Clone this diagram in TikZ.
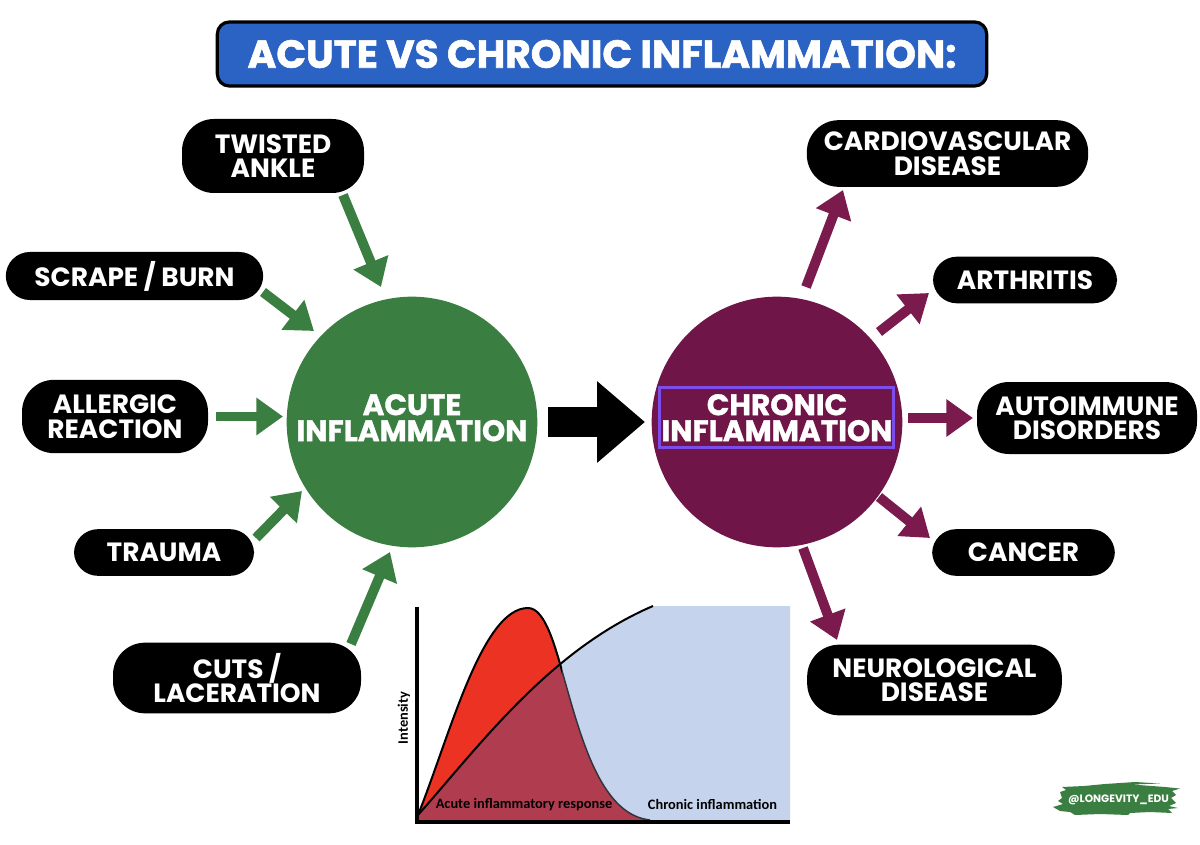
\documentclass[tikz,border=0pt]{standalone}
\usepackage{fontspec}
\setmainfont{Poppins}
\newfontfamily\chartfont{Carlito}
\usetikzlibrary{arrows.meta}
\definecolor{greenc}{HTML}{3A7F41}
\definecolor{plum}{HTML}{701547}
\definecolor{plumarrow}{HTML}{7A1A4D}
\definecolor{titleblue}{HTML}{2B63C4}
\definecolor{violetbox}{HTML}{7C4DEA}
\definecolor{chartblue}{HTML}{C5D3EC}
\definecolor{chartred}{HTML}{EC3323}
\definecolor{chartmix}{HTML}{B03C4F}
\tikzset{
  pill/.style={fill=black,text=white,rounded corners=#1,inner sep=0pt,align=center,
    font=\fontsize{19.8}{18.4}\selectfont\bfseries},
  hub/.style={circle,minimum size=188pt,inner sep=0pt},
  hubtext/.style={text=white,align=center,inner sep=0pt,yshift=3.2pt,
    font=\fontsize{22.2}{19.5}\selectfont\bfseries\addfontfeature{FakeBold=1.2}},
  greenarrow/.style={draw=greenc,line width=7.4pt,-{Triangle[length=20pt,width=27pt]}},
  plumlink/.style={draw=plumarrow,line width=7.4pt,-{Triangle[length=20pt,width=27pt]}},
  charttext/.style={inner sep=0pt,font=\chartfont\fontsize{10.8}{11}\selectfont\bfseries},
}
\begin{document}
\begin{tikzpicture}[x=0.75pt,y=-0.75pt]
\useasboundingbox (0,0) rectangle (1200,845);
% title
\node[draw=black,line width=2.4pt,fill=titleblue,rounded corners=9pt,minimum width=577pt,minimum height=48pt,inner sep=0pt,text=white,
  font=\fontsize{29.3}{30}\selectfont\bfseries\addfontfeature{FakeBold=1.5}] (title) at (602,54) {ACUTE VS CHRONIC INFLAMMATION:};
% hubs
\node[hub,fill=greenc,label={[hubtext]center:ACUTE\\INFLAMMATION}] (acute) at (412,422) {};
\node[hub,fill=plum,label={[hubtext]center:CHRONIC\\INFLAMMATION}] (chronic) at (777,422) {};
\node[draw=violetbox,line width=2.2pt,minimum width=176pt,minimum height=45.5pt,inner sep=0pt] (hilite) at (776.5,417.5) {};
% left pills
\node[pill=24pt,minimum width=136.5pt,minimum height=55.5pt] (twisted) at (273,156) {TWISTED\\ANKLE};
\node[pill=18pt,minimum width=193pt,minimum height=36pt] (scrape) at (134.5,276) {SCRAPE / BURN};
\node[pill=24pt,minimum width=139.5pt,minimum height=55pt] (allergic) at (115,416.5) {ALLERGIC\\REACTION};
\node[pill=18pt,minimum width=135pt,minimum height=35pt] (trauma) at (164,552.5) {TRAUMA};
\node[pill=24pt,minimum width=186pt,minimum height=53pt] (cuts) at (237,678) {CUTS /\\LACERATION};
% right pills
\node[pill=24pt,minimum width=211pt,minimum height=50pt] (cardio) at (947.5,153.5) {CARDIOVASCULAR\\DISEASE};
\node[pill=18pt,minimum width=138pt,minimum height=35pt] (arthritis) at (1025,280) {ARTHRITIS};
\node[pill=24pt,minimum width=165pt,minimum height=54pt] (autoimmune) at (1087,418) {AUTOIMMUNE\\DISORDERS};
\node[pill=18pt,minimum width=137pt,minimum height=35pt] (cancer) at (1023.5,552.5) {CANCER};
\node[pill=24pt,minimum width=191pt,minimum height=53pt] (neuro) at (934.5,680) {NEUROLOGICAL\\DISEASE};
% left arrows
\draw[greenarrow] ([shift={(70,39)}]twisted.center) -- ([shift={(-31,-135)}]acute.center);
\draw[greenarrow] ([shift={(128.5,16)}]scrape.center) -- ([shift={(-98,-91)}]acute.center);
\draw[greenarrow] ([shift={(101,0)}]allergic.center) -- ([shift={(-129,-5.5)}]acute.center);
\draw[greenarrow] ([shift={(92,-14.5)}]trauma.center) -- ([shift={(-110,69)}]acute.center);
\draw[greenarrow] ([shift={(114,-34)}]cuts.center) -- ([shift={(-22,130)}]acute.center);
% centre arrow
\draw[draw=black,line width=22pt,-{Triangle[length=36pt,width=59pt]}] ([shift={(136,0)}]acute.center) -- ([shift={(-132,0)}]chronic.center);
% right arrows
\draw[plumlink] ([shift={(29,-135)}]chronic.center) -- ([shift={(-104.5,36.5)}]cardio.center);
\draw[plumlink] ([shift={(102,-90)}]chronic.center) -- ([shift={(-96,13)}]arthritis.center);
\draw[plumlink] ([shift={(131,-4)}]chronic.center) -- ([shift={(-114,0)}]autoimmune.center);
\draw[plumlink] ([shift={(102,75)}]chronic.center) -- ([shift={(-93.5,-14.5)}]cancer.center);
\draw[plumlink] ([shift={(26,126)}]chronic.center) -- ([shift={(-97.5,-40)}]neuro.center);
% chart
\def\chroniccurve{(418,815) .. controls (480,745) and (550,650) .. (653,606)}
\def\acutecurve{(418,815) .. controls (450,735) and (482,608) .. (528,608) .. controls (546,608) and (556,650) .. (566,685) .. controls (583,745) and (603,815) .. (650,820)}
\fill[chartblue] \chroniccurve -- (790,606) -- (790,820) -- (418,820) -- cycle;
\fill[chartred] \acutecurve -- cycle;
\begin{scope}
  \clip \chroniccurve -- (790,606) -- (790,820) -- (418,820) -- cycle;
  \fill[chartmix] \acutecurve -- (418,820) -- cycle;
\end{scope}
\draw[black,line width=1.5pt] \chroniccurve;
\begin{scope}
  \clip (400,600) rectangle (562,825);
  \draw[black,line width=1.5pt] \acutecurve;
\end{scope}
\begin{scope}
  \clip (562,600) rectangle (700,825);
  \draw[black!75!chartblue,line width=1.1pt] \acutecurve;
\end{scope}
\draw[black,line width=3pt] (417,607) -- (417,821.5) -- (790,821.5);
\node[charttext] (acutelabel) at (524,805) {Acute inflammatory response};
\node[charttext] (chroniclabel) at (712.5,804) {Chronic inflammation};
\node[charttext,rotate=90] (intensity) at (404,718) {Intensity};
% logo
\fill[greenc] (1053,807) -- (1063,804) -- (1058,801) -- (1062,798) -- (1060,792) -- (1066,790) -- (1062,787) -- (1084,786) -- (1105,784) -- (1135,782) -- (1160,783.5) -- (1132,784.5) -- (1165,787) -- (1180,788.5) -- (1172,791) -- (1176,795) -- (1171,798) -- (1176,803) -- (1169,806) -- (1178,808) -- (1168,809) -- (1172,813) -- (1150,812) -- (1130,813) -- (1128,815) -- (1100,814) -- (1075,815) -- (1070,812) -- (1060,811) -- cycle;
\node[text=white,inner sep=0pt,font=\fontsize{8}{8}\selectfont\bfseries] (logo) at (1118.5,799.5) {@LONGEVITY\_EDU};
\end{tikzpicture}
\end{document}
